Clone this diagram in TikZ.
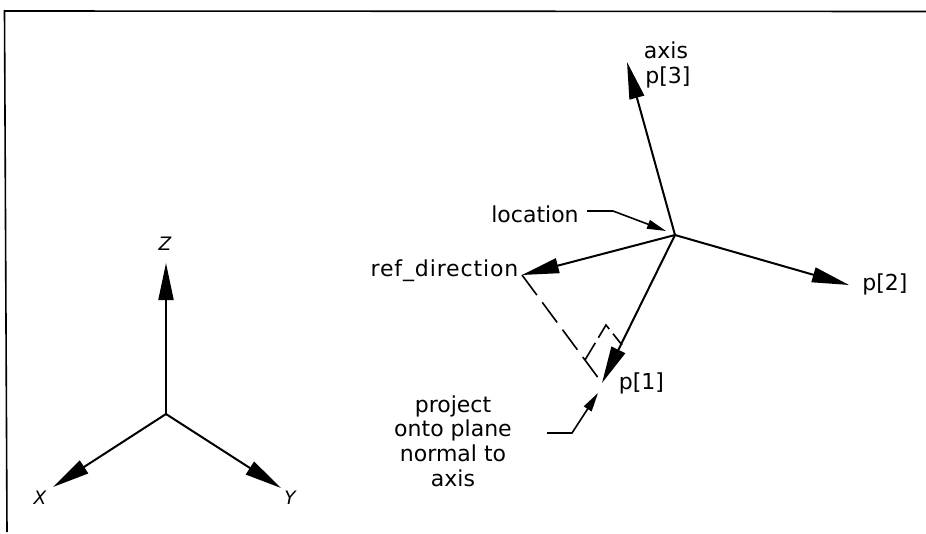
\documentclass[tikz,border=0pt]{standalone}
\usepackage{fontspec}
\setmainfont{DejaVu Sans}
\usetikzlibrary{arrows.meta}
\tikzset{
  ln/.style={line width=2pt,black},
  big/.style={ln,-{Triangle[length=37pt,width=15pt]}},
  leader/.style={line width=1.6pt,black,-{Triangle[length=19pt,width=9pt]}},
  dashline/.style={line width=1.6pt,black,dash pattern=on 25pt off 9pt},
  sqline/.style={line width=1.6pt,black,dash pattern=on 20pt off 6pt},
  lbl/.style={inner sep=0pt,anchor=base,font=\fontsize{22}{22}\selectfont,text=black},
  ax/.style={lbl,anchor=center,font=\fontsize{18.5}{18.5}\selectfont\itshape}
}
\begin{document}
\begin{tikzpicture}[x=1pt,y=-1pt]
\useasboundingbox (0,0) rectangle (926,533);
\fill[white] (0,0) rectangle (926,533);
\coordinate (fa) at (926,11.5);
\coordinate (fb) at (4.5,11);
\coordinate (fc) at (7,532);
\draw[line width=1.6pt,line join=miter] (fa) -- (fb) -- (fc);
% left axes
\coordinate (O) at (166,414);
\coordinate (Zt) at (166,263);
\coordinate (Xt) at (53,487);
\coordinate (Yt) at (281,488);
\draw[big] (O) -- (Zt);
\draw[big] (O) -- (Xt);
\draw[big] (O) -- (Yt);
\node[ax] (zl) at (165,244) {Z};
\node[ax] (xl) at (40,498) {X};
\node[ax] (yl) at (290,498) {Y};
% right axes
\coordinate (C) at (675,235);
\coordinate (p3) at (627,62);
\coordinate (p2) at (849,285);
\coordinate (rd) at (522,275);
\coordinate (p1) at (602,383);
\draw[big] (C) -- (p3);
\draw[big] (C) -- (p2);
\draw[big] (C) -- (rd);
\draw[big] (C) -- (p1);
\coordinate (s1) at (585,360);
\coordinate (s2) at (606,325);
\coordinate (s3) at (622,345);
\draw[dashline] (rd) -- (p1);
\draw[sqline] (s1) -- (s2) -- (s3);
% leaders
\coordinate (l0) at (587,211);
\coordinate (l1) at (613,211);
\coordinate (lt) at (666,231);
\draw[leader] (l0) -- (l1) -- (lt);
\coordinate (m0) at (547,433);
\coordinate (m1) at (572,433);
\coordinate (mt) at (598,393);
\draw[leader] (m0) -- (m1) -- (mt);
% labels
\node[lbl] (axl) at (666,58) {axis};
\node[lbl] (p3l) at (668,83) {p[3]};
\node[lbl] (loc) at (535,222) {location};
\node[lbl] (ref) at (444.5,276) {\addfontfeature{LetterSpace=4}ref\_direction};
\node[lbl] (p2l) at (885,290) {p[2]};
\node[lbl] (p1l) at (641.5,389) {p[1]};
\node[lbl,anchor=center,align=center,font=\fontsize{22}{24.6}\selectfont] (prj) at (453,441) {project\\onto plane\\normal to\\axis};
\end{tikzpicture}
\end{document}
